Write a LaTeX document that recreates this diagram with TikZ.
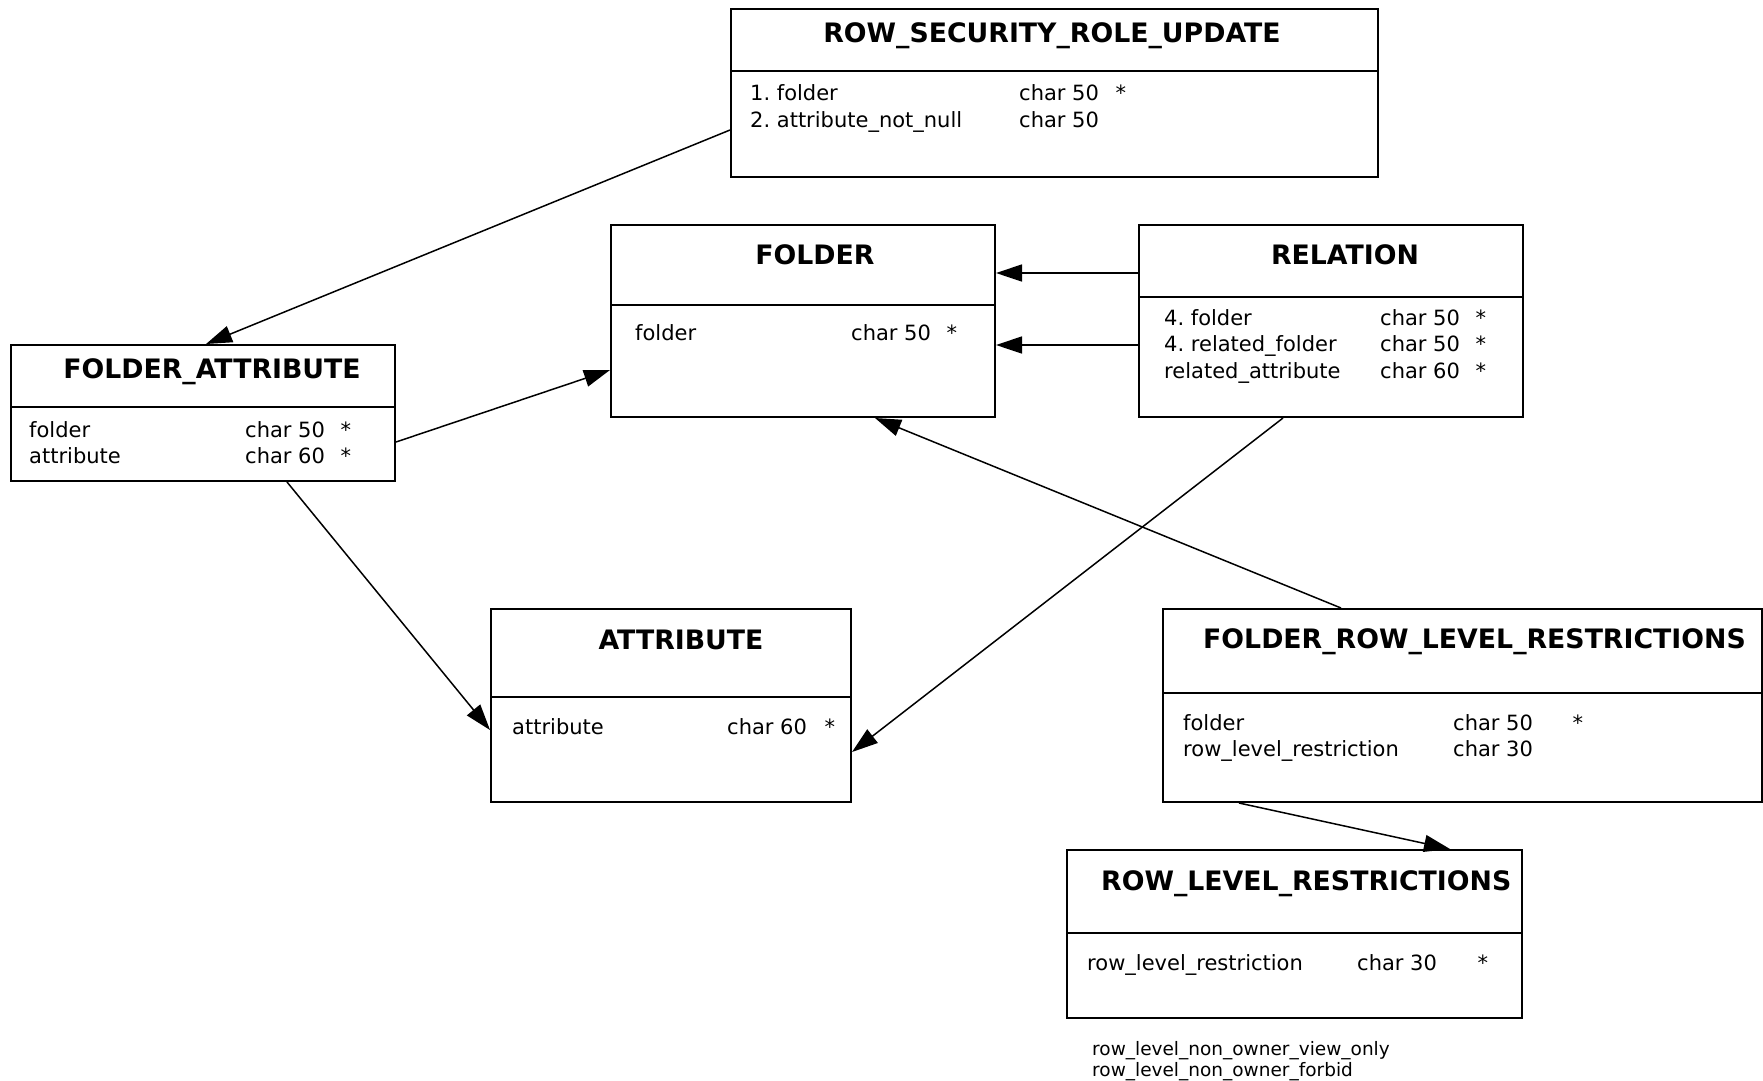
\documentclass[tikz,border=0pt]{standalone}
\usepackage{fontspec}
\setmainfont{DejaVu Sans}
\usetikzlibrary{arrows.meta}
\tikzset{
  tbl/.style={draw, line width=2pt, rectangle, inner sep=0pt},
  divline/.style={line width=2pt},
  ttl/.style={font=\fontsize{26.75}{32}\selectfont\bfseries, inner sep=0pt, anchor=base},
  ttlw/.style={font=\fontsize{26.75}{32}\selectfont\bfseries, inner sep=0pt, anchor=base west},
  rowtxt/.style={font=\fontsize{21}{25}\selectfont\frenchspacing, inner sep=0pt, anchor=base west},
  notetxt/.style={font=\fontsize{18.5}{21}\selectfont, inner sep=0pt, anchor=base west},
  conn/.style={line width=1.5pt, -{Triangle[length=26pt,width=17pt]}}
}
\begin{document}
\frenchspacing
\begin{tikzpicture}[x=1pt,y=-1pt]
\useasboundingbox (0,0) rectangle (1763,1080);
% tables
\node[tbl, minimum width=647pt, minimum height=168pt] (rsru) at (1054.5,93) {};
\node[tbl, minimum width=384pt, minimum height=192pt] (folder) at (803,321) {};
\node[tbl, minimum width=384pt, minimum height=192pt] (relation) at (1331,321) {};
\node[tbl, minimum width=384pt, minimum height=136pt] (fa) at (203,413) {};
\node[tbl, minimum width=360pt, minimum height=193pt] (attr) at (671,705.5) {};
\node[tbl, minimum width=599pt, minimum height=193pt] (frlr) at (1462.5,705.5) {};
\node[tbl, minimum width=455pt, minimum height=168pt] (rlr) at (1294.5,934) {};
% dividers
\draw[divline] (rsru.west |- 0,71) -- (rsru.east |- 0,71);
\draw[divline] (folder.west |- 0,305) -- (folder.east |- 0,305);
\draw[divline] (relation.west |- 0,297) -- (relation.east |- 0,297);
\draw[divline] (fa.west |- 0,407) -- (fa.east |- 0,407);
\draw[divline] (attr.west |- 0,697) -- (attr.east |- 0,697);
\draw[divline] (frlr.west |- 0,693) -- (frlr.east |- 0,693);
\draw[divline] (rlr.west |- 0,933) -- (rlr.east |- 0,933);
% ROW_SECURITY_ROLE_UPDATE
\node[ttl] (rsrut) at (1052,42.5) {ROW\_SECURITY\_ROLE\_UPDATE};
\node[rowtxt] (rsru1) at (750,100) {1. folder};
\node[rowtxt] (rsru1c) at (1019,100) {char 50};
\node[rowtxt] (rsru1s) at (1115.5,100) {*};
\node[rowtxt] (rsru2) at (750,127) {2. attribute\_not\_null};
\node[rowtxt] (rsru2c) at (1019,127) {char 50};
% FOLDER
\node[ttl] (foldert) at (815,264) {FOLDER};
\node[rowtxt] (folder1) at (635,340) {folder};
\node[rowtxt] (folder1c) at (851,340) {char 50};
\node[rowtxt] (folder1s) at (946.5,340) {*};
% RELATION
\node[ttl] (relationt) at (1345,264) {RELATION};
\node[rowtxt] (rel1) at (1164,325) {4. folder};
\node[rowtxt] (rel1c) at (1380,325) {char 50};
\node[rowtxt] (rel1s) at (1475.5,325) {*};
\node[rowtxt] (rel2) at (1164,351) {4. related\_folder};
\node[rowtxt] (rel2c) at (1380,351) {char 50};
\node[rowtxt] (rel2s) at (1475.5,351) {*};
\node[rowtxt] (rel3) at (1164,378) {related\_attribute};
\node[rowtxt] (rel3c) at (1380,378) {char 60};
\node[rowtxt] (rel3s) at (1475.5,378) {*};
% FOLDER_ATTRIBUTE
\node[ttl] (fat) at (212,378.5) {FOLDER\_ATTRIBUTE};
\node[rowtxt] (fa1) at (29,437.5) {folder};
\node[rowtxt] (fa1c) at (245,437.5) {char 50};
\node[rowtxt] (fa1s) at (340.5,437.5) {*};
\node[rowtxt] (fa2) at (29,463.5) {attribute};
\node[rowtxt] (fa2c) at (245,463.5) {char 60};
\node[rowtxt] (fa2s) at (340.5,463.5) {*};
% ATTRIBUTE
\node[ttl] (attrt) at (681,649.5) {ATTRIBUTE};
\node[rowtxt] (attr1) at (512,734) {attribute};
\node[rowtxt] (attr1c) at (727,734) {char 60};
\node[rowtxt] (attr1s) at (824.5,734) {*};
% FOLDER_ROW_LEVEL_RESTRICTIONS
\node[ttlw] (frlrt) at (1203,648.5) {FOLDER\_ROW\_LEVEL\_RESTRICTIONS};
\node[rowtxt] (frlr1) at (1183,730) {folder};
\node[rowtxt] (frlr1c) at (1453,730) {char 50};
\node[rowtxt] (frlr1s) at (1572.5,730) {*};
\node[rowtxt] (frlr2) at (1183,756) {row\_level\_restriction};
\node[rowtxt] (frlr2c) at (1453,756) {char 30};
% ROW_LEVEL_RESTRICTIONS
\node[ttlw] (rlrt) at (1101,890) {ROW\_LEVEL\_RESTRICTIONS};
\node[rowtxt] (rlr1) at (1087,970.5) {row\_level\_restriction};
\node[rowtxt] (rlr1c) at (1357,970.5) {char 30};
\node[rowtxt] (rlr1s) at (1477.5,970.5) {*};
\node[notetxt] (note1) at (1092,1055) {row\_level\_non\_owner\_view\_only};
\node[notetxt] (note2) at (1092,1076) {row\_level\_non\_owner\_forbid};
% connectors
\draw[conn] ([yshift=-37pt]rsru.west) -- ([xshift=3pt]fa.north);
\draw[conn] ([yshift=-29pt]fa.east) -- ([yshift=-49pt]folder.west);
\draw[conn] ([yshift=48pt]relation.west) -- ([yshift=48pt]folder.east);
\draw[conn] ([yshift=-24pt]relation.west) -- ([yshift=-24pt]folder.east);
\draw[conn] ([xshift=84pt]fa.south) -- ([yshift=-24.5pt]attr.west);
\draw[conn] ([xshift=-48pt]relation.south) -- ([yshift=-46.5pt]attr.east);
\draw[conn] ([xshift=-121.5pt]frlr.north) -- ([xshift=72pt]folder.south);
\draw[conn] ([xshift=-223.5pt]frlr.south) -- ([xshift=155.5pt]rlr.north);
\end{tikzpicture}
\end{document}
